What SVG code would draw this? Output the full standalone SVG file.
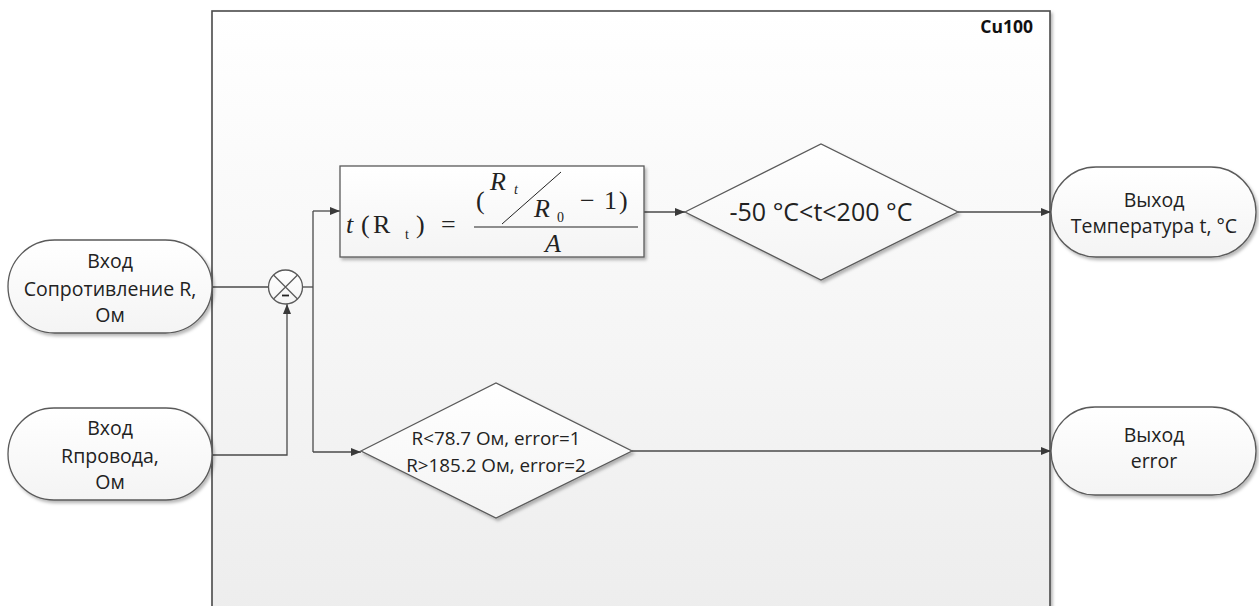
<svg xmlns="http://www.w3.org/2000/svg" width="1259" height="606" viewBox="0 0 1259 606">
<style>
.sh{stroke:#5a5a5a;stroke-width:1.3;}
.node{fill:url(#ng);stroke:#5a5a5a;stroke-width:1.3;filter:url(#ds);}
.lbl{font-family:"Open Sans","Liberation Sans",sans-serif;font-size:19.5px;fill:#222;text-anchor:middle;}
.conn{fill:none;stroke:#4a4a4a;stroke-width:1.3;}
.m{font-family:"Liberation Serif",serif;font-size:26px;fill:#222;}
.mi{font-style:italic;}
.sub{font-size:14px;}
</style>
<defs>
<linearGradient id="cg" x1="0" y1="0" x2="0" y2="1"><stop offset="0" stop-color="#ffffff"/><stop offset="1" stop-color="#ededed"/></linearGradient>
<linearGradient id="ng" x1="0" y1="0" x2="0" y2="1"><stop offset="0" stop-color="#ffffff"/><stop offset="1" stop-color="#f4f4f4"/></linearGradient>
<filter id="ds" x="-10%" y="-10%" width="120%" height="130%"><feDropShadow dx="2" dy="2.5" stdDeviation="1.5" flood-color="#000" flood-opacity="0.28"/></filter>
<marker id="ar" viewBox="0 0 10 8" refX="10" refY="4" markerWidth="10" markerHeight="8" markerUnits="userSpaceOnUse" orient="auto"><path d="M0,0 L10,4 L0,8 z" fill="#3a3a3a"/></marker>
</defs>
<rect width="1259" height="606" fill="#ffffff"/>
<g id="container">
<rect x="212" y="11" width="838" height="610" fill="url(#cg)" stroke="#4a4a4a" stroke-width="1.6" filter="url(#ds)"/>
<text x="1033" y="33" font-family="Open Sans,Liberation Sans,sans-serif" font-size="17.5" font-weight="bold" fill="#111" text-anchor="end">Cu100</text>
</g>
<g id="connectors">
<path class="conn" d="M212,287 H268"/>
<path class="conn" d="M212,455 H287 V304" marker-end="url(#ar)"/>
<path class="conn" d="M303,287 H313"/>
<path class="conn" d="M313,211 V452"/>
<path class="conn" d="M313,211 H340" marker-end="url(#ar)"/>
<path class="conn" d="M313,452 H361" marker-end="url(#ar)"/>
<path class="conn" d="M644,212 H685" marker-end="url(#ar)"/>
<path class="conn" d="M958,212 H1051" marker-end="url(#ar)"/>
<path class="conn" d="M632,451 H1051" marker-end="url(#ar)"/>
</g>
<g id="in1">
<rect class="node" x="8" y="240" width="204" height="93" rx="46.5" ry="46.5"/>
<text class="lbl" x="110" y="268">Вход</text>
<text class="lbl" x="110" y="296">Сопротивление R,</text>
<text class="lbl" x="110" y="322">Ом</text>
</g>
<g id="in2">
<rect class="node" x="8" y="408" width="204" height="92" rx="46" ry="46"/>
<text class="lbl" x="110" y="435">Вход</text>
<text class="lbl" x="110" y="463">Rпровода,</text>
<text class="lbl" x="110" y="489">Ом</text>
</g>
<g id="sum">
<circle cx="285.5" cy="287" r="17" fill="url(#ng)" stroke="#5a5a5a" stroke-width="1.3"/>
<path d="M273.5,275 L297.5,299 M297.5,275 L273.5,299" stroke="#5a5a5a" stroke-width="1.3"/>
<path d="M282,295.5 H289" stroke="#222" stroke-width="1.8"/>
</g>
<g id="formula">
<rect x="340" y="166" width="304" height="91" fill="url(#ng)" stroke="#5a5a5a" stroke-width="1.3" filter="url(#ds)"/>
<text class="m mi" x="346" y="233">t</text>
<text class="m" x="361" y="233">(</text>
<text class="m" x="373" y="233">R</text>
<text class="m sub" x="405" y="239">t</text>
<text class="m" x="416" y="233">)</text>
<text class="m" x="441" y="233">=</text>
<text class="m" x="476" y="209">(</text>
<text class="m mi" x="490" y="190">R</text>
<text class="m mi sub" x="514" y="194">t</text>
<path d="M502,224 L561,172" stroke="#222" stroke-width="1"/>
<text class="m mi" x="534" y="217">R</text>
<text class="m sub" x="557" y="222">0</text>
<text class="m" x="580" y="209">−</text>
<text class="m" x="604" y="209">1</text>
<text class="m" x="619" y="209">)</text>
<path d="M474,227 H638" stroke="#222" stroke-width="1.2"/>
<text class="m mi" x="545" y="252">A</text>
</g>
<g id="dec1">
<polygon points="685,212 821,144 958,212 821,280" fill="url(#ng)" stroke="#5a5a5a" stroke-width="1.3" filter="url(#ds)"/>
<text class="lbl" x="821" y="221" style="font-size:25px">-50 °C&lt;t&lt;200 °C</text>
</g>
<g id="dec2">
<polygon points="361,451 496,383 632,451 496,518" fill="url(#ng)" stroke="#5a5a5a" stroke-width="1.3" filter="url(#ds)"/>
<text class="lbl" x="496" y="445" style="font-size:18.8px">R&lt;78.7 Ом, error=1</text>
<text class="lbl" x="496" y="472" style="font-size:18.8px">R&gt;185.2 Ом, error=2</text>
</g>
<g id="out1">
<rect class="node" x="1051" y="167" width="205" height="90" rx="45" ry="45"/>
<text class="lbl" x="1154" y="207">Выход</text>
<text class="lbl" x="1154" y="233">Температура t, °C</text>
</g>
<g id="out2">
<rect class="node" x="1051" y="407" width="205" height="88" rx="44" ry="44"/>
<text class="lbl" x="1154" y="442">Выход</text>
<text class="lbl" x="1154" y="468">error</text>
</g>
</svg>
